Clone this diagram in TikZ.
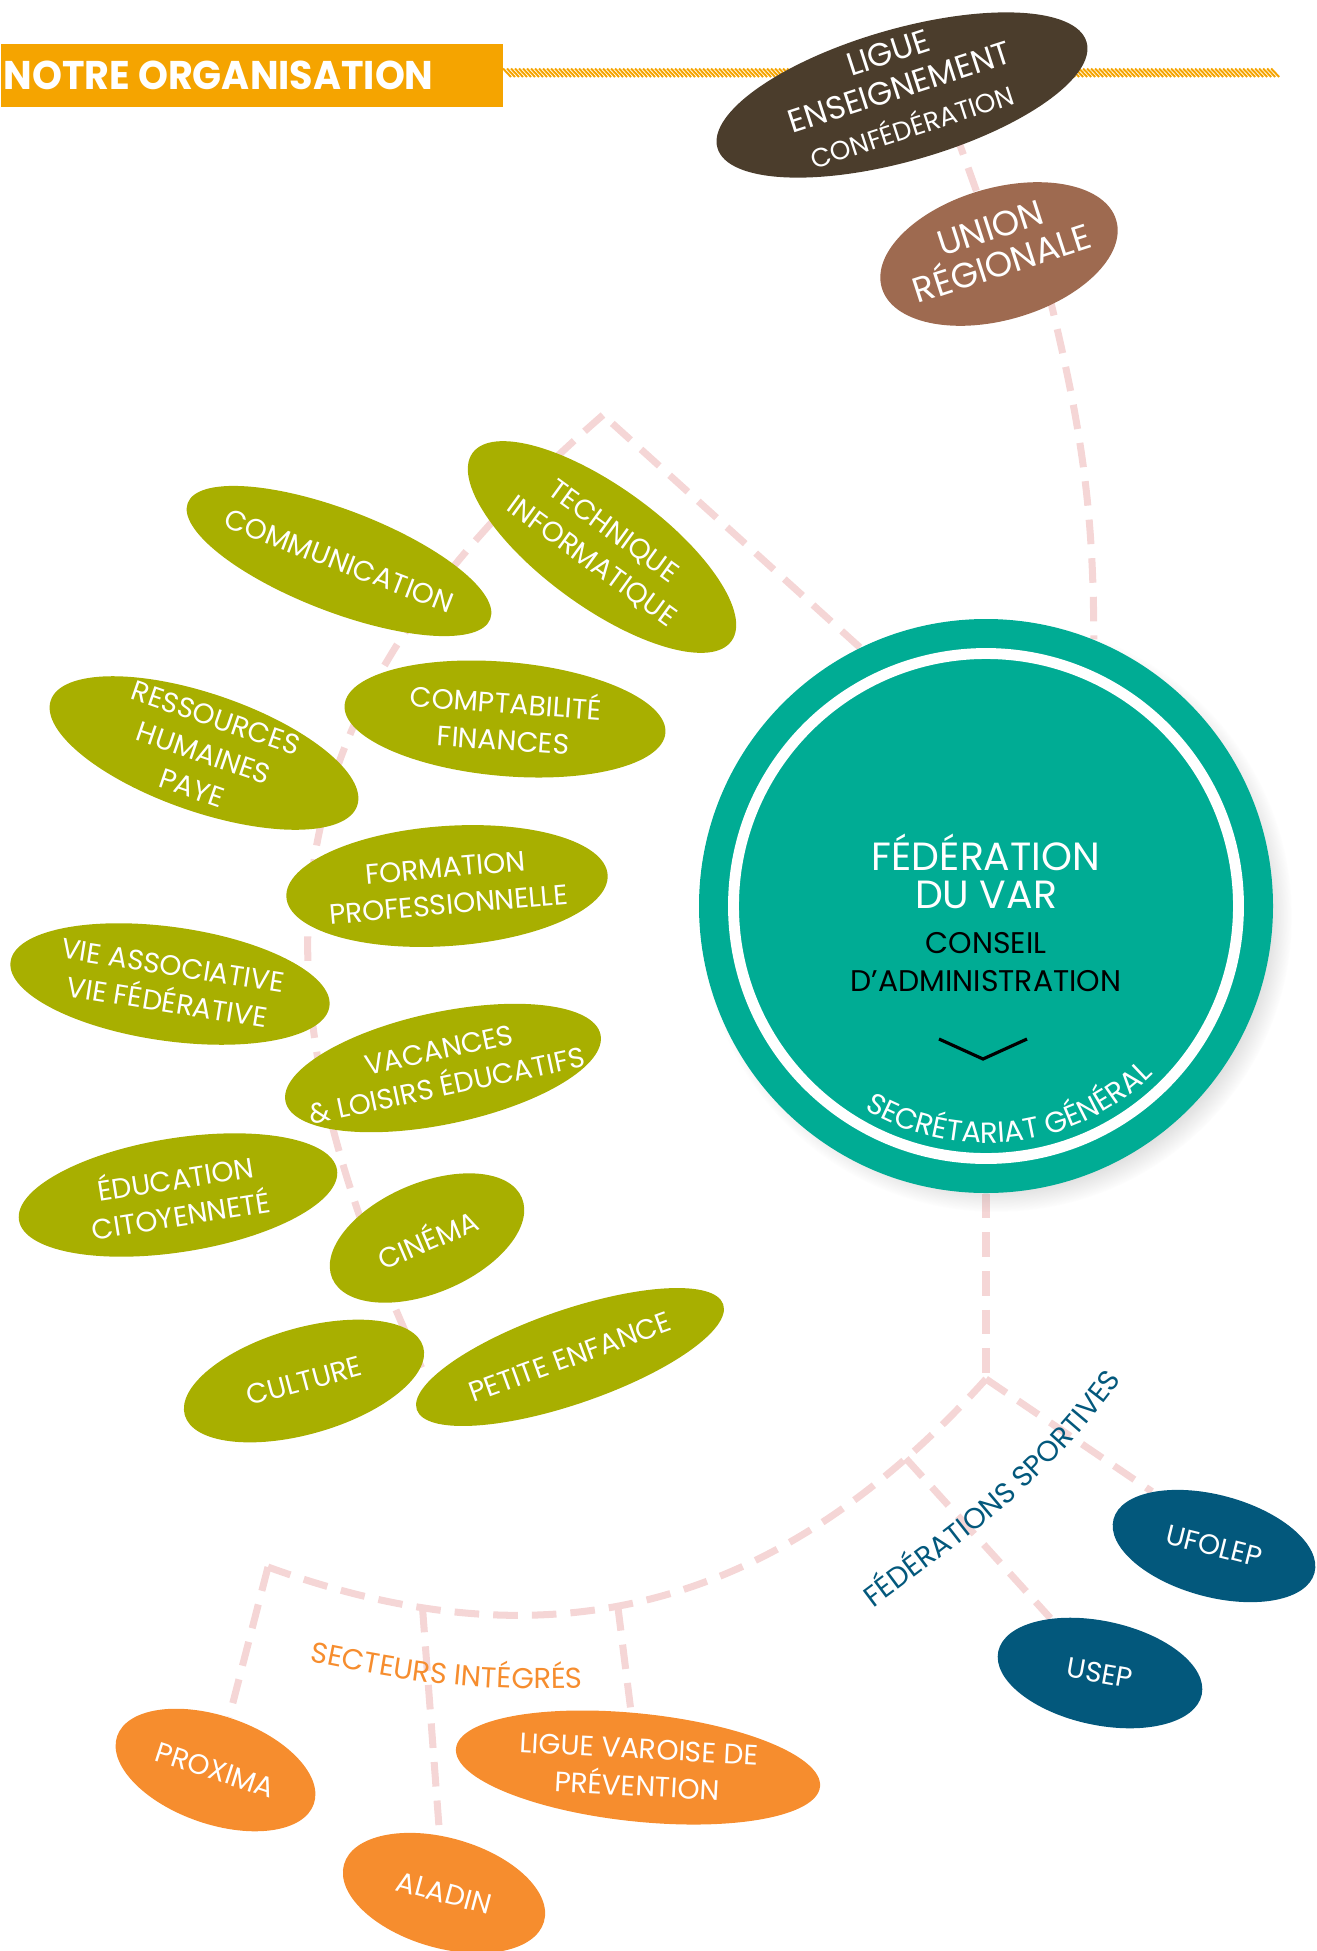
\documentclass[tikz,border=0pt]{standalone}
\usepackage{fontspec}
\usepackage{graphicx}
\setmainfont{Poppins}
\usetikzlibrary{shapes.geometric,backgrounds,shadows,decorations.text}

\definecolor{titleorange}{HTML}{F5A400}
\definecolor{liguebrown}{HTML}{4B3D2C}
\definecolor{unionbrown}{HTML}{9E6A50}
\definecolor{fedteal}{HTML}{00AC94}
\definecolor{servicegreen}{HTML}{A8AF00}
\definecolor{sportblue}{HTML}{03587C}
\definecolor{secteurorange}{HTML}{F68D2E}
\definecolor{linkpink}{HTML}{F5D6D6}

\newcommand\curvefont{\fontsize{8.2}{9}\selectfont}
\newcommand\secfont{\fontsize{8.3}{9}\selectfont}

\tikzstyle{blob}    = [ellipse, inner sep=0pt, minimum width=3.22cm, minimum height=1.14cm]
\tikzstyle{service} = [blob, fill=servicegreen]
\tikzstyle{sport}   = [blob, fill=sportblue, minimum width=2.08cm, minimum height=1.04cm]
\tikzstyle{secteur} = [blob, fill=secteurorange, minimum width=2.08cm, minimum height=1.08cm]
\tikzstyle{blabel}  = [text=white, align=center, inner sep=0pt, font=\fontsize{8}{10.5}\selectfont]
\tikzstyle{link}    = [draw=linkpink, line width=2pt, dash pattern=on 7pt off 4pt]
\tikzstyle{curved}  = [decorate, decoration={text along path, text align=center}]

\begin{document}
\begin{tikzpicture}
\useasboundingbox (0,0) rectangle (13.16,-19.51);

% bandeau titre
\node[fill=titleorange, anchor=north west, minimum width=5.02cm, minimum height=0.63cm, inner sep=0pt] (title) at (0,-0.43) {};
\node[anchor=west, text=white, inner sep=0pt] (titletxt) at ([xshift=0.03cm]title.west) {\scalebox{0.95}[1]{\bfseries\fontsize{11.4}{12}\selectfont NOTRE ORGANISATION}};
\foreach \x in {5.03,5.07,...,12.72}
    \draw[titleorange, line width=.55pt] (\x,-0.685) -- ++(0.08,-0.085);

% ligue et union regionale
\node[blob, fill=liguebrown, minimum width=3.84cm, minimum height=1.32cm, rotate=16] (ligue) at (9.02,-0.95) {};
\node[blabel, rotate=18, font=\fontsize{9.2}{10.4}\selectfont] (liguetxt) at (9.0,-0.89) {LIGUE\\ENSEIGNEMENT\\[1pt]{\fontsize{7.5}{9}\selectfont CONFÉDÉRATION}};
\node[blob, fill=unionbrown, minimum width=2.44cm, minimum height=1.32cm, rotate=16] (union) at (9.99,-2.54) {};
\node[blabel, rotate=18, font=\fontsize{10}{10.6}\selectfont] (uniontxt) at (9.96,-2.46) {UNION\\RÉGIONALE};

% federation
\node[circle, fill=fedteal, minimum size=5.74cm, inner sep=0pt,
      circular drop shadow={shadow xshift=.1cm, shadow yshift=-.1cm, shadow scale=1.03, opacity=.45}] (fed) at (9.86,-9.06) {};
\draw[white, line width=3.1pt] (fed.center) circle (2.525);
\node[text=white, align=center, font=\fontsize{11.2}{10.9}\selectfont] (fedname) at ([yshift=3.45mm]fed.center) {FÉDÉRATION\\DU VAR};
\node[align=center, font=\fontsize{8.5}{10.7}\selectfont] (ca) at ([yshift=-5.6mm]fed.center) {CONSEIL\\D’ADMINISTRATION};
\draw[line width=.9pt] ([shift={(-0.47,-1.33)}]fed.center) -- ([shift={(-0.03,-1.53)}]fed.center) -- ([shift={(0.41,-1.33)}]fed.center);
\path[curved, decoration={text={|\secfont|SECRÉTARIAT GÉNÉRAL}, text color=white}]
    ([shift={(-128:2.37)}]fed.center) arc[start angle=-128, end angle=-38, radius=2.37];

% services
\node[service, minimum width=3.24cm, minimum height=1.02cm, rotate=-21] (comm) at (3.39,-5.61) {};
\node[blabel, rotate=-21] (commtxt) at (comm) {COMMUNICATION};
\node[service, minimum width=3.20cm, minimum height=1.20cm, rotate=-36] (tech) at (6.02,-5.47) {};
\node[blabel, rotate=-36] (techtxt) at (tech) {TECHNIQUE\\INFORMATIQUE};
\node[service, minimum height=1.14cm, rotate=-5] (compta) at (5.05,-7.19) {};
\node[blabel, rotate=-4] (comptatxt) at (compta) {COMPTABILITÉ\\FINANCES};
\node[service, minimum width=3.24cm, minimum height=1.18cm, rotate=-19] (rh) at (2.04,-7.53) {};
\node[blabel, rotate=-19] (rhtxt) at (rh) {RESSOURCES\\HUMAINES\\PAYE};
\node[service, minimum height=1.20cm, rotate=4] (formation) at (4.47,-8.86) {};
\node[blabel, rotate=5] (formationtxt) at (formation) {FORMATION\\PROFESSIONNELLE};
\node[service, rotate=-8] (vie) at (1.70,-9.84) {};
\node[blabel, rotate=-9] (vietxt) at (vie) {VIE ASSOCIATIVE\\VIE FÉDÉRATIVE};
\node[service, minimum height=1.12cm, rotate=12] (vacances) at (4.43,-10.68) {};
\node[blabel, rotate=12] (vacancestxt) at (vacances) {VACANCES\\\& LOISIRS ÉDUCATIFS};
\node[service, rotate=9] (educ) at (1.78,-11.95) {};
\node[blabel, rotate=9] (eductxt) at (educ) {ÉDUCATION\\CITOYENNETÉ};
\node[service, minimum width=2.06cm, minimum height=1.10cm, rotate=23] (cinema) at (4.27,-12.38) {};
\node[blabel, rotate=23] (cinematxt) at (cinema) {CINÉMA};
\node[service, minimum width=2.48cm, minimum height=1.06cm, rotate=16] (culture) at (3.04,-13.81) {};
\node[blabel, rotate=15] (culturetxt) at (culture) {CULTURE};
\node[service, minimum width=3.24cm, minimum height=0.94cm, rotate=19] (petite) at (5.70,-13.57) {};
\node[blabel, rotate=20] (petitetxt) at (petite) {PETITE ENFANCE};

% federations sportives
\node[sport, minimum height=1.02cm, rotate=-15] (ufolep) at (12.14,-15.46) {};
\node[blabel, rotate=-14] (ufoleptxt) at (ufolep) {UFOLEP};
\node[sport, rotate=-12] (usep) at (11.00,-16.73) {};
\node[blabel, rotate=-10] (useptxt) at (usep) {USEP};
\path[curved, decoration={text={|\curvefont|FÉDÉRATIONS SPORTIVES}, text color=sportblue}]
    (8.60,-16.18) to[out=37, in=235] (11.31,-13.66);

% secteurs integres
\node[secteur, rotate=-19] (proxima) at (2.155,-17.70) {};
\node[blabel, rotate=-18] (proximatxt) at (proxima) {PROXIMA};
\node[secteur, minimum height=1.10cm, rotate=-16] (aladin) at (4.44,-18.93) {};
\node[blabel, rotate=-15] (aladintxt) at (aladin) {ALADIN};
\node[secteur, minimum width=3.66cm, rotate=-6] (lvp) at (6.38,-17.675) {};
\node[blabel, rotate=-3, font=\fontsize{8}{10.6}\selectfont] (lvptxt) at (lvp) {LIGUE VAROISE DE\\PRÉVENTION};
\path[curved, decoration={text={|\curvefont|SECTEURS INTÉGRÉS}, text color=secteurorange}]
    (2.98,-16.59) to[out=-12, in=182] (5.95,-16.88);

% liaisons
\coordinate (peak) at (6.03,-4.15);
\coordinate (spineend) at (4.25,-13.75);
\coordinate (jn) at (9.86,-13.79);
\coordinate (corner) at (2.68,-15.67);
\begin{scope}[on background layer]
    \draw[link] ([xshift=4mm]ligue.center) -- (union);
    \draw[link] ([xshift=4mm]union.center) to[out=-76, in=90] (fed.68);
    \draw[link] (fed.116) -- (peak);
    \draw[link] (peak) to[out=221, in=115, distance=4.5cm] (spineend);
    \draw[link] (fed.south) -- (jn);
    \draw[link] (jn) -- (ufolep.north west);
    \draw[link] (jn) to[out=228, in=-20, out distance=3.3cm, in distance=2.8cm]
        coordinate[pos=.12] (usepbr) coordinate[pos=.535] (lvpbr) coordinate[pos=.8] (aladbr) (corner);
    \draw[link] (usepbr) -- (usep);
    \draw[link] (lvpbr) -- (lvp);
    \draw[link] (aladbr) -- (aladin);
    \draw[link] (corner) -- (proxima);
\end{scope}
\end{tikzpicture}
\end{document}
